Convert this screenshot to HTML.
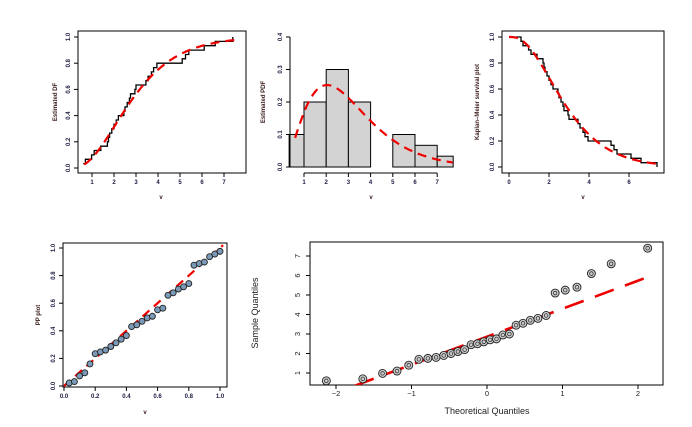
<!DOCTYPE html>
<html><head><meta charset="utf-8"><style>
body{margin:0;background:#fff;width:692px;height:427px;overflow:hidden}
svg{display:block}
text{font-family:"Liberation Sans",sans-serif;fill:#111}
.t{font-size:6px;font-weight:bold;fill:#1a1a40}
.t2{font-size:7.5px;fill:#1a1a1a}
.l{font-size:6px;font-weight:bold;fill:#3a1a1a}
</style></head><body>
<svg id="s" width="692" height="427" xmlns="http://www.w3.org/2000/svg"><defs><clipPath id="cq"><rect x="310" y="242" width="353" height="143"/></clipPath></defs><g id="g"></g></svg>
<script>
var S=document.getElementById('g'),h='';
var d=[0.6,0.7,0.98,1.1,1.4,1.7,1.75,1.8,1.9,2.0,2.1,2.2,2.45,2.5,2.6,2.7,2.75,2.95,3.0,3.45,3.55,3.7,3.8,3.95,5.1,5.25,5.4,6.1,6.6,7.4];
var n=30,th=1.02;
function F(x){var z=x/th;return 1-Math.exp(-z)*(1+z+z*z/2);}
function f(x){var z=x/th;return z*z*Math.exp(-z)/2/th*0.95;}
function ln(x1,y1,x2,y2,w,c){h+='<line x1="'+x1+'" y1="'+y1+'" x2="'+x2+'" y2="'+y2+'" stroke="'+(c||'#000')+'" stroke-width="'+(w||1)+'"/>';}
function pl(p,c,w,da,cl){h+='<polyline fill="none" points="'+p.map(function(q){return q[0].toFixed(1)+','+q[1].toFixed(1)}).join(' ')+'" stroke="'+c+'" stroke-width="'+w+'"'+(da?' stroke-dasharray="'+da+'"':'')+(cl?' clip-path="url(#'+cl+')"':'')+'/>';}
function tx(x,y,s,c,rot,a){h+='<text x="'+x+'" y="'+y+'" class="'+c+'" text-anchor="'+(a||'middle')+'"'+(rot?' transform="rotate(-90 '+x+' '+y+')"':'')+'>'+s+'</text>';}
function box(x1,y1,x2,y2){h+='<rect x="'+x1+'" y="'+y1+'" width="'+(x2-x1)+'" height="'+(y2-y1)+'" fill="none" stroke="#000" stroke-width="1"/>';}
function xt(vals,X,yb,lab,c){vals.forEach(function(v){ln(X(v),yb,X(v),yb+4);tx(X(v),yb+11,lab?lab(v):v,c||'t');});}
function yt(vals,Y,xb,lab){vals.forEach(function(v){ln(xb,Y(v),xb-4,Y(v));tx(xb-8,Y(v),lab?lab(v):v,'t',1);});}
var f1=function(v){return v.toFixed(1)};
(function(){var X=function(v){return 92+(v-1)*22},Y=function(v){return 168-v*131};
box(78,31,246,173);xt([1,2,3,4,5,6,7],X,173);ln(X(1),173,X(7),173);yt([0,0.2,0.4,0.6,0.8,1],Y,78,f1);ln(78,Y(0),78,Y(1));
var p=[[X(d[0]),Y(0.033)]];for(var i=1;i<n;i++){p.push([X(d[i]),Y(i/n)]);p.push([X(d[i]),Y((i+1)/n)]);}
pl(p,'#000',1.3);var q=[];for(var x=0.65;x<=7.5;x+=0.05)q.push([X(x),Y(F(x))]);pl(q,'#e00',2.2,'9,6');
tx(57,102,'Estimated DF','l',1);tx(161,199,'v','l');})();
(function(){var X=function(v){return 304+(v-1)*22.2},Y=function(v){return 167-v*325};
var b=[[0.33,1,0.1],[1,2,0.2],[2,3,0.3],[3,4,0.2],[4,5,0],[5,6,0.1],[6,7,0.0667],[7,7.72,0.0333]];
b.forEach(function(e){h+='<rect x="'+X(e[0])+'" y="'+Y(e[2])+'" width="'+(X(e[1])-X(e[0]))+'" height="'+(Y(0)-Y(e[2]))+'" fill="#d3d3d3" stroke="#000" stroke-width="1"/>';});
ln(290,Y(0),290,Y(0.4));yt([0,0.1,0.2,0.3,0.4],Y,290,f1);ln(X(1),173,X(7),173);xt([1,2,3,4,5,6,7],X,173);
var q=[];for(var x=0.6;x<=7.7;x+=0.05)q.push([X(x),Y(f(x))]);pl(q,'#e00',2.2,'9,6');
tx(265,102,'Estimated PDF','l',1);tx(371,199,'v','l');})();
(function(){var X=function(v){return 509+v*20},Y=function(v){return 167-v*130};
box(502,31,664,173);xt([0,2,4,6],X,173);ln(X(0),173,X(6),173);yt([0,0.2,0.4,0.6,0.8,1],Y,502,f1);ln(502,Y(0),502,Y(1));
var p=[[X(0),Y(1)]];for(var i=0;i<n;i++){p.push([X(d[i]),Y(1-i/n)]);p.push([X(d[i]),Y(1-(i+1)/n)]);}
pl(p,'#000',1.3);var q=[];for(var x=0;x<=7.5;x+=0.05)q.push([X(x),Y(1-F(x))]);pl(q,'#e00',2.2,'9,6');
tx(479,102,'Kaplan\u2013Meier survival plot','l',1);tx(583,199,'v','l');})();
(function(){var X=function(v){return 64+v*156},Y=function(v){return 386-v*138};
box(63,243,227,387);xt([0,0.2,0.4,0.6,0.8,1],X,387,f1);ln(X(0),387,X(1),387);yt([0,0.2,0.4,0.6,0.8,1],Y,63,f1);ln(63,Y(0),63,Y(1));
pl([[X(0),Y(0)],[X(1.02),Y(1.02)]],'#e00',2.2,'9,6');
for(var i=0;i<n;i++){var cx=X((i+1)/n),cy=Y(F(d[i]));h+='<circle cx="'+cx+'" cy="'+cy+'" r="3" fill="#7a9ab8" stroke="#222" stroke-width="0.9"/>';}
tx(40,315,'PP plot','l',1);tx(145,414,'v','l');})();
function qn(p){var a=[-39.6968302866538,220.946098424521,-275.928510446969,138.357751867269,-30.6647980661472,2.50662827745924],b=[-54.4760987982241,161.585836858041,-155.698979859887,66.8013118877197,-13.2806815528857],c=[-7.78489400243029e-3,-0.322396458041136,-2.40075827716184,-2.54973253934373,4.37466414146497,2.93816398269878],e=[7.78469570904146e-3,0.32246712907004,2.445134137143,3.75440866190742];
if(p<0.02425){var q=Math.sqrt(-2*Math.log(p));return(((((c[0]*q+c[1])*q+c[2])*q+c[3])*q+c[4])*q+c[5])/((((e[0]*q+e[1])*q+e[2])*q+e[3])*q+1);}
if(p>0.97575)return -qn(1-p);var q=p-0.5,r=q*q;return(((((a[0]*r+a[1])*r+a[2])*r+a[3])*r+a[4])*r+a[5])*q/(((((b[0]*r+b[1])*r+b[2])*r+b[3])*r+b[4])*r+1);}
(function(){var X=function(v){return 487+v*75.5},Y=function(v){return 373-(v-1)*19.5};
box(310,242,663,385);xt([-2,-1,0,1,2],X,385,function(v){return v<0?'\u2212'+(-v):v},'t2');
ln(X(-2),385,X(2),385);[1,2,3,4,5,6,7].forEach(function(v){ln(310,Y(v),306,Y(v));tx(300,Y(v),v,'t2',1);});ln(310,Y(1),310,Y(7));
pl([[X(-1.75),Y(0.35)],[X(2.15),Y(5.95)]],'#e00',2.6,'20,12','cq');
for(var i=0;i<n;i++){var cx=X(qn((i+0.5)/n)),cy=Y(d[i]);h+='<circle cx="'+cx+'" cy="'+cy+'" r="4" fill="#ccc" stroke="#222" stroke-width="0.9"/><circle cx="'+cx+'" cy="'+cy+'" r="1.8" fill="none" stroke="#222" stroke-width="0.7"/>';}
h+='<text x="487" y="414" text-anchor="middle" style="font-size:9px;fill:#222">Theoretical Quantiles</text>';
h+='<text x="258" y="313" text-anchor="middle" transform="rotate(-90 258 313)" style="font-size:9px;fill:#222">Sample Quantiles</text>';})();
S.innerHTML=h;
</script>
</body></html>
